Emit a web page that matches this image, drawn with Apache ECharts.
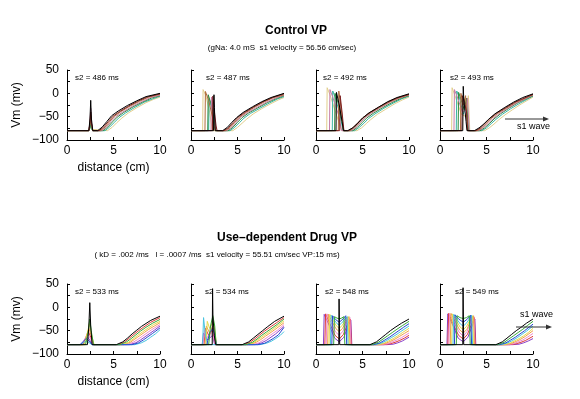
<!DOCTYPE html>
<html>
<head>
<meta charset="utf-8">
<script src="https://cdn.jsdelivr.net/npm/echarts@6/dist/echarts.min.js"></script>
<style>
html, body { margin: 0; background: #fff; }
#chart { width: 580px; height: 399px; }
</style>
</head>
<body>
<div id="chart"></div>
<script>
// labels
var panelLabels = ["s2 = 486 ms", "s2 = 487 ms", "s2 = 492 ms", "s2 = 493 ms",
                   "s2 = 533 ms", "s2 = 534 ms", "s2 = 548 ms", "s2 = 549 ms"];
var xTickLabels = [0, 5, 10];
var yTickLabels = [-100, -50, 0, 50];

// trace colours, in drawing order (black last, on top)
var controlColors = ["#e2cf8c", "#3ab4a4", "#2c8a3c", "#c67ca8", "#b06a3a", "#7d2020", "#000000"];
var drugColors = ["#8a40c8", "#e03a3a", "#f08ad0", "#f0a048", "#e4da4c", "#48c4e0", "#2848d0", "#38a838", "#000000"];

// Control VP, s2 = 486 ms  (distance cm, Vm mV)
var p486 = [
  [[0,-80],[2.35,-80],[2.48,-77],[2.55,-72],[2.62,-77],[2.75,-80],[4.35,-80],[4.85,-73],[5.35,-63],[5.9,-53],[6.6,-42],[7.5,-31],[8.5,-20],[9.3,-13],[10,-8]],
  [[0,-80],[2.35,-80],[2.48,-74],[2.55,-67],[2.62,-74],[2.75,-80],[4.1,-80],[4.6,-72],[5.1,-62],[5.6,-52],[6.3,-42],[7.3,-30],[8.3,-19],[9.2,-12],[10,-6]],
  [[0,-80],[2.35,-80],[2.48,-72],[2.55,-60],[2.62,-72],[2.75,-80],[3.9,-80],[4.4,-72],[4.9,-61],[5.4,-51],[6.1,-41],[7.1,-29],[8.1,-19],[9.1,-10],[10,-5]],
  [[0,-80],[2.35,-80],[2.47,-62],[2.55,-32],[2.63,-62],[2.77,-80],[3.75,-80],[4.25,-72],[4.75,-60],[5.25,-50],[6,-40],[7,-28],[8,-18],[9,-9],[10,-4]],
  [[0,-80],[2.35,-80],[2.47,-66],[2.55,-48],[2.63,-66],[2.77,-80],[3.6,-80],[4.1,-72],[4.6,-60],[5.1,-49],[5.8,-39],[6.8,-27],[7.8,-17],[8.8,-8],[10,-2]],
  [[0,-80],[2.35,-80],[2.47,-64],[2.55,-40],[2.63,-64],[2.77,-80],[3.45,-80],[3.95,-72],[4.45,-60],[4.95,-49],[5.65,-39],[6.65,-27],[7.6,-17],[8.6,-8],[10,-1]],
  [[0,-80],[2.35,-80],[2.47,-55],[2.55,-15],[2.63,-55],[2.77,-80],[3.3,-80],[3.8,-72],[4.3,-60],[4.8,-48],[5.5,-38],[6.5,-26],[7.5,-16],[8.5,-7],[10,0]]
];

// Control VP, s2 = 487 ms
var p487 = [
  [[0,-80],[1.25,-80],[1.3,8],[1.6,-5],[2.0,-40],[2.3,-80],[4.5,-80],[5,-73],[5.5,-64],[6,-55],[6.7,-44],[7.6,-33],[8.6,-22],[9.4,-14],[10,-9]],
  [[0,-80],[1.9,-80],[1.95,-12],[2.2,-30],[2.5,-60],[2.65,-80],[4.2,-80],[4.7,-73],[5.2,-63],[5.7,-53],[6.4,-43],[7.4,-32],[8.4,-21],[9.3,-12],[10,-7]],
  [[0,-80],[1.8,-80],[1.85,-3],[2.2,-25],[2.5,-55],[2.65,-80],[4.0,-80],[4.5,-73],[5,-62],[5.5,-52],[6.2,-42],[7.2,-31],[8.2,-20],[9.2,-11],[10,-5]],
  [[0,-80],[2.15,-80],[2.2,-8],[2.45,-40],[2.6,-65],[2.72,-80],[3.85,-80],[4.35,-73],[4.85,-62],[5.35,-51],[6.1,-41],[7.1,-30],[8.1,-19],[9.1,-10],[10,-4]],
  [[0,-80],[1.5,-80],[1.55,4],[1.9,-15],[2.3,-50],[2.6,-80],[3.7,-80],[4.2,-73],[4.7,-62],[5.2,-51],[5.9,-41],[6.9,-29],[7.9,-18],[8.9,-9],[10,-3]],
  [[0,-80],[2.3,-80],[2.35,-6],[2.55,-45],[2.7,-70],[2.8,-80],[3.55,-80],[4.05,-73],[4.55,-62],[5.05,-51],[5.75,-41],[6.75,-29],[7.75,-18],[8.75,-9],[10,-1]],
  [[0,-80],[2.42,-80],[2.47,-3],[2.52,-30],[2.6,-80],[3.4,-80],[3.9,-73],[4.4,-62],[4.9,-52],[5.6,-41],[6.6,-29],[7.6,-18],[8.6,-9],[10,0]]
];

// Control VP, s2 = 492 ms
var p492 = [
  [[0,-80],[1.15,-80],[1.2,12],[1.5,-3],[2.1,-40],[2.6,-70],[2.8,-80],[4.4,-80],[4.9,-74],[5.4,-65],[5.9,-56],[6.6,-45],[7.5,-34],[8.5,-22],[9.3,-14],[10,-8]],
  [[0,-80],[1.75,-80],[1.8,5],[2.1,-10],[2.6,-48],[2.9,-80],[4.15,-80],[4.65,-73],[5.15,-64],[5.65,-54],[6.35,-44],[7.3,-32],[8.3,-21],[9.2,-12],[10,-6]],
  [[0,-80],[2.0,-80],[2.05,0],[2.4,-22],[2.8,-60],[3.0,-80],[3.95,-80],[4.45,-73],[4.95,-63],[5.45,-53],[6.15,-43],[7.15,-31],[8.15,-20],[9.1,-11],[10,-5]],
  [[0,-80],[1.45,-80],[1.5,8],[1.8,-8],[2.4,-45],[2.75,-80],[3.8,-80],[4.3,-73],[4.8,-62],[5.3,-52],[6,-42],[7,-30],[8,-19],[9,-10],[10,-4]],
  [[0,-80],[2.4,-80],[2.45,5],[2.7,-30],[2.95,-80],[3.65,-80],[4.15,-73],[4.65,-62],[5.15,-52],[5.85,-42],[6.85,-30],[7.85,-19],[8.85,-10],[10,-3]],
  [[0,-80],[2.55,-80],[2.6,-5],[2.8,-40],[3.0,-80],[3.5,-80],[4,-73],[4.5,-63],[5,-53],[5.7,-42],[6.7,-30],[7.7,-19],[8.7,-10],[10,-2]],
  [[0,-80],[2.15,-80],[2.2,2],[2.5,-25],[2.8,-60],[2.95,-80],[3.4,-80],[3.95,-74],[4.5,-64],[5,-53],[5.7,-42],[6.7,-30],[7.7,-18],[8.7,-9],[10,-1]]
];

// Control VP, s2 = 493 ms
var p493 = [
  [[0,-80],[1.25,-80],[1.3,12],[1.7,-10],[2.3,-45],[2.8,-50],[3.05,-5],[3.2,-80],[4.8,-80],[5.3,-74],[5.8,-66],[6.3,-57],[7,-46],[7.8,-35],[8.8,-22],[10,-8]],
  [[0,-80],[1.75,-80],[1.8,5],[2.1,-10],[2.5,-45],[2.8,-25],[3.1,-80],[4.5,-80],[5,-74],[5.5,-65],[6,-56],[6.7,-45],[7.6,-33],[8.6,-21],[10,-6]],
  [[0,-80],[1.95,-80],[2.0,2],[2.3,-15],[2.6,-35],[2.85,-10],[3.05,-80],[4.3,-80],[4.8,-74],[5.3,-65],[5.8,-55],[6.5,-44],[7.4,-32],[8.4,-20],[10,-5]],
  [[0,-80],[1.5,-80],[1.55,8],[1.9,-10],[2.4,-40],[2.8,-35],[2.95,-10],[3.15,-80],[4.15,-80],[4.65,-74],[5.15,-65],[5.65,-55],[6.35,-44],[7.3,-32],[8.3,-20],[10,-4]],
  [[0,-80],[2.2,-80],[2.25,0],[2.5,-25],[2.75,-5],[3.0,-80],[4.0,-80],[4.5,-74],[5,-64],[5.5,-54],[6.2,-43],[7.2,-31],[8.2,-19],[10,-3]],
  [[0,-80],[2.35,-80],[2.4,-5],[2.65,-20],[2.85,-40],[2.95,-80],[3.85,-80],[4.35,-74],[4.85,-64],[5.35,-54],[6.05,-43],[7.05,-31],[8.05,-19],[10,-2]],
  [[0,-80],[2.45,-80],[2.5,15],[2.55,-10],[2.8,-60],[2.9,-80],[3.7,-80],[4.2,-74],[4.7,-66],[5.2,-56],[5.9,-44],[6.9,-31],[7.9,-19],[8.9,-9],[10,-1]]
];

// Use-dependent Drug VP, s2 = 533 ms
var p533 = [
  [[0,-80],[1.5,-80],[1.85,-72],[2.2,-63],[2.5,-72],[2.8,-80],[6.7,-80],[7.4,-76],[7.9,-70],[8.4,-63],[8.9,-56],[9.4,-49],[10,-40]],
  [[0,-80],[1.7,-80],[2.0,-66],[2.3,-52],[2.6,-66],[2.85,-80],[5.5,-80],[6.2,-74],[6.7,-66],[7.2,-58],[7.7,-50],[8.2,-43],[9,-32],[10,-22]],
  [[0,-80],[1.6,-80],[1.9,-68],[2.25,-58],[2.55,-68],[2.8,-80],[6.4,-80],[7.1,-75],[7.6,-69],[8.1,-62],[8.6,-55],[9.1,-48],[10,-37]],
  [[0,-80],[1.8,-80],[2.1,-60],[2.35,-45],[2.6,-60],[2.9,-80],[6.1,-80],[6.8,-75],[7.3,-68],[7.8,-61],[8.3,-54],[8.8,-47],[9.4,-40],[10,-33]],
  [[0,-80],[1.9,-80],[2.2,-55],[2.4,-35],[2.6,-55],[2.9,-80],[5.9,-80],[6.6,-75],[7.1,-68],[7.6,-60],[8.1,-53],[8.6,-46],[9.3,-37],[10,-30]],
  [[0,-80],[1.4,-80],[1.75,-76],[2.1,-72],[2.4,-76],[2.7,-80],[7.3,-80],[8,-76],[8.5,-71],[9,-64],[9.5,-57],[10,-48]],
  [[0,-80],[1.4,-80],[1.7,-74],[2.1,-66],[2.45,-74],[2.7,-80],[7.0,-80],[7.7,-76],[8.2,-70],[8.7,-63],[9.2,-56],[10,-44]],
  [[0,-80],[2.0,-80],[2.3,-50],[2.45,-25],[2.6,-50],[2.85,-80],[5.7,-80],[6.4,-74],[6.9,-67],[7.4,-59],[7.9,-51],[8.4,-44],[9.2,-34],[10,-26]],
  [[0,-80],[2.2,-80],[2.35,-40],[2.45,10],[2.55,-40],[2.7,-80],[5.3,-80],[6,-74],[6.5,-66],[7,-57],[7.5,-49],[8,-41],[9,-28],[10,-19]]
];

// Use-dependent Drug VP, s2 = 534 ms
var p534 = [
  [[0,-80],[1.2,-80],[1.35,-55],[1.8,-70],[2.3,-60],[2.55,-80],[6.9,-80],[7.6,-76],[8.1,-71],[8.6,-64],[9.1,-57],[10,-41]],
  [[0,-80],[1.4,-80],[1.55,-45],[1.9,-60],[2.3,-50],[2.65,-80],[5.7,-80],[6.4,-74],[6.9,-67],[7.4,-59],[7.9,-51],[8.4,-44],[9.2,-33],[10,-22]],
  [[0,-80],[1.3,-80],[1.45,-50],[1.8,-65],[2.3,-55],[2.6,-80],[6.6,-80],[7.3,-76],[7.8,-70],[8.3,-63],[8.8,-56],[9.3,-49],[10,-37]],
  [[0,-80],[1.5,-80],[1.65,-40],[2.0,-55],[2.35,-40],[2.7,-80],[6.3,-80],[7,-75],[7.5,-69],[8,-62],[8.5,-55],[9,-48],[10,-33]],
  [[0,-80],[1.6,-80],[1.75,-30],[2.0,-45],[2.4,-30],[2.6,-55],[2.75,-80],[6.1,-80],[6.8,-75],[7.3,-68],[7.8,-61],[8.3,-54],[8.8,-47],[9.4,-38],[10,-29]],
  [[0,-80],[1.25,-80],[1.35,-22],[1.55,-60],[1.8,-80],[7.4,-80],[8.1,-77],[8.6,-73],[9.1,-67],[9.6,-60],[10,-52]],
  [[0,-80],[1.7,-80],[2.0,-55],[2.35,-45],[2.6,-65],[2.75,-80],[7.2,-80],[7.9,-77],[8.4,-72],[8.9,-66],[9.4,-59],[10,-43]],
  [[0,-80],[1.9,-80],[2.1,-40],[2.35,-18],[2.55,-40],[2.7,-80],[5.9,-80],[6.6,-75],[7.1,-68],[7.6,-60],[8.1,-53],[8.6,-46],[9.3,-36],[10,-25]],
  [[0,-80],[2.28,-80],[2.32,40],[2.36,-20],[2.5,-60],[2.65,-80],[5.5,-80],[6.2,-74],[6.7,-66],[7.2,-58],[7.7,-50],[8.2,-42],[9,-30],[10,-19]]
];

// Use-dependent Drug VP, s2 = 548 ms
var p548 = [
  [[0,-80],[0.8,-80],[0.88,-15],[1.5,-42],[2.0,-66],[2.5,-74],[3.0,-64],[3.45,-40],[3.75,-28],[3.85,-80],[7.6,-80],[8.3,-79],[8.8,-76],[9.3,-72],[10,-64]],
  [[0,-80],[0.95,-80],[1.03,-14],[1.6,-40],[2.05,-60],[2.5,-68],[2.95,-58],[3.4,-36],[3.7,-25],[3.8,-80],[7.3,-80],[8,-78],[8.5,-75],[9,-71],[9.5,-66],[10,-60]],
  [[0,-80],[1.1,-80],[1.18,-14],[1.7,-36],[2.1,-53],[2.5,-60],[2.9,-51],[3.3,-32],[3.65,-22],[3.75,-80],[7.0,-80],[7.7,-78],[8.2,-74],[8.7,-70],[9.2,-65],[10,-55]],
  [[0,-80],[1.25,-80],[1.33,-15],[1.8,-33],[2.15,-46],[2.5,-52],[2.85,-45],[3.25,-30],[3.55,-20],[3.65,-80],[6.8,-80],[7.5,-77],[8,-73],[8.5,-68],[9,-62],[9.5,-56],[10,-50]],
  [[0,-80],[1.4,-80],[1.48,-15],[1.9,-30],[2.2,-40],[2.5,-45],[2.8,-39],[3.2,-27],[3.45,-20],[3.55,-80],[6.6,-80],[7.3,-77],[7.8,-72],[8.3,-67],[8.8,-61],[9.3,-54],[10,-45]],
  [[0,-80],[1.55,-80],[1.63,-17],[2.0,-28],[2.25,-35],[2.5,-38],[2.75,-34],[3.1,-25],[3.35,-20],[3.45,-80],[6.4,-80],[7.1,-76],[7.6,-71],[8.1,-65],[8.6,-59],[9.1,-52],[10,-40]],
  [[0,-80],[1.7,-80],[1.78,-18],[2.1,-26],[2.5,-32],[2.9,-25],[3.2,-18],[3.3,-80],[6.2,-80],[6.9,-76],[7.4,-70],[7.9,-64],[8.4,-57],[8.9,-50],[9.4,-43],[10,-35]],
  [[0,-80],[1.9,-80],[1.98,-20],[2.25,-23],[2.5,-25],[2.75,-23],[3.0,-20],[3.1,-80],[6.0,-80],[6.7,-75],[7.2,-68],[7.7,-61],[8.2,-54],[8.7,-47],[9.3,-39],[10,-30]],
  [[0,-80],[2.45,-80],[2.48,18],[2.52,18],[2.55,-80],[5.8,-80],[6.5,-74],[7,-66],[7.5,-58],[8,-50],[8.5,-43],[9.2,-34],[10,-25]]
];

// Use-dependent Drug VP, s2 = 549 ms
var p549 = [
  [[0,-80],[0.75,-80],[0.83,-14],[1.45,-42],[1.95,-66],[2.5,-74],[3.0,-64],[3.45,-40],[3.75,-25],[3.85,-80],[7.8,-80],[8.5,-79],[9,-76],[9.5,-72],[10,-67]],
  [[0,-80],[0.85,-80],[0.93,-13],[1.5,-40],[2.0,-60],[2.5,-68],[2.95,-58],[3.4,-36],[3.7,-22],[3.8,-80],[7.5,-80],[8.2,-78],[8.7,-75],[9.2,-71],[10,-62]],
  [[0,-80],[0.95,-80],[1.03,-13],[1.6,-36],[2.05,-53],[2.5,-62],[2.9,-52],[3.3,-32],[3.65,-20],[3.75,-80],[7.2,-80],[7.9,-78],[8.4,-74],[8.9,-70],[9.4,-64],[10,-56]],
  [[0,-80],[1.1,-80],[1.18,-13],[1.7,-33],[2.1,-48],[2.5,-55],[2.9,-47],[3.25,-30],[3.6,-18],[3.7,-80],[7.0,-80],[7.7,-77],[8.2,-73],[8.7,-68],[9.2,-62],[10,-50]],
  [[0,-80],[1.25,-80],[1.33,-14],[1.8,-30],[2.15,-42],[2.5,-48],[2.85,-41],[3.2,-28],[3.5,-18],[3.6,-80],[6.8,-80],[7.5,-77],[8,-72],[8.5,-67],[9,-61],[9.5,-54],[10,-45]],
  [[0,-80],[1.4,-80],[1.48,-15],[1.9,-28],[2.2,-36],[2.5,-40],[2.8,-35],[3.15,-25],[3.4,-17],[3.5,-80],[6.6,-80],[7.3,-76],[7.8,-71],[8.3,-65],[8.8,-58],[9.3,-51],[10,-40]],
  [[0,-80],[1.55,-80],[1.63,-16],[2.0,-25],[2.5,-32],[2.95,-25],[3.3,-17],[3.4,-80],[6.4,-80],[7.1,-76],[7.6,-70],[8.1,-64],[8.6,-57],[9.1,-50],[10,-36]],
  [[0,-80],[1.75,-80],[1.83,-18],[2.15,-22],[2.5,-24],[2.85,-22],[3.15,-18],[3.25,-80],[6.2,-80],[6.9,-75],[7.4,-68],[7.9,-61],[8.4,-54],[8.9,-47],[9.4,-39],[10,-30]],
  [[0,-80],[2.45,-80],[2.48,42],[2.52,42],[2.55,-80],[6.0,-80],[6.7,-74],[7.2,-66],[7.7,-58],[8.2,-50],[8.7,-43],[9.3,-34],[10,-25]]
];

var panels = [p486, p487, p492, p493, p533, p534, p548, p549];

// layout
var FONT = "'Liberation Sans', Arial, Helvetica, sans-serif";
var colLefts = [67, 191, 316, 440];
var rowTops = [70, 284];
var gw = 93, gh = 70;
var labelShift = [8, 15, 7, 10, 8, 14, 9, 15];

function minus(v) { return String(v).replace("-", "\u2212"); }

var grids = [], xAxes = [], yAxes = [], series = [], graphics = [];

panels.forEach(function(traces, i) {
    var col = i % 4, row = Math.floor(i / 4);
    var first = col === 0;
    grids.push({ left: colLefts[col], top: rowTops[row], width: gw, height: gh });
    xAxes.push({
        type: "value", gridIndex: i, min: 0, max: 10, interval: 2.5,
        axisLine: { onZero: false, lineStyle: { color: "#000", width: 1 } },
        axisTick: { inside: true, length: 3, lineStyle: { color: "#000" } },
        splitLine: { show: false },
        axisLabel: {
            color: "#000", fontSize: 12, fontFamily: FONT, margin: 5,
            formatter: function(v) { return xTickLabels.indexOf(v) >= 0 ? String(v) : ""; }
        },
        name: first ? "distance (cm)" : "", nameLocation: "middle", nameGap: 22,
        nameTextStyle: { color: "#000", fontSize: 12, fontFamily: FONT }
    });
    yAxes.push({
        type: "value", gridIndex: i, min: -100, max: 50, interval: 25,
        axisLine: { show: true, onZero: false, lineStyle: { color: "#000", width: 1 } },
        axisTick: { show: true, inside: true, length: 3, lineStyle: { color: "#000" } },
        splitLine: { show: false },
        axisLabel: {
            show: first, color: "#000", fontSize: 12, fontFamily: FONT, margin: 8,
            formatter: function(v) { return yTickLabels.indexOf(v) >= 0 ? minus(v) : ""; }
        },
        name: first ? "Vm (mv)" : "", nameLocation: "middle", nameGap: 44, nameRotate: 90,
        nameTextStyle: { color: "#000", fontSize: 12, fontFamily: FONT }
    });
    var colors = row === 0 ? controlColors : drugColors;
    traces.forEach(function(tr, j) {
        series.push({
            type: "line", xAxisIndex: i, yAxisIndex: i, data: tr,
            symbol: "none", color: colors[j],
            lineStyle: { width: 1, color: colors[j] },
            animation: false, z: 2 + j
        });
    });
    graphics.push({
        type: "text", left: colLefts[col] + labelShift[i], top: rowTops[row] + 4,
        style: { text: panelLabels[i], fontSize: 8, fontFamily: FONT, fill: "#000" }, z: 100
    });
});

function arrow(x1, x2, y) {
    return [
        { type: "line", shape: { x1: x1, y1: y, x2: x2 - 4, y2: y }, style: { stroke: "#333", lineWidth: 1 }, z: 100 },
        { type: "polygon", shape: { points: [[x2, y], [x2 - 6, y - 2.5], [x2 - 6, y + 2.5]] }, style: { fill: "#333" }, z: 100 }
    ];
}
graphics = graphics.concat(arrow(505, 549, 119), arrow(516, 552, 327));
graphics.push(
    { type: "text", left: 517, top: 122, style: { text: "s1 wave", fontSize: 9, fontFamily: FONT, fill: "#000" }, z: 100 },
    { type: "text", left: 520, top: 310, style: { text: "s1 wave", fontSize: 9, fontFamily: FONT, fill: "#000" }, z: 100 }
);

var chart = echarts.init(document.getElementById("chart"), null, { renderer: "canvas" });
chart.setOption({
    backgroundColor: "#fff",
    animation: false,
    title: [
        { text: "Control VP", left: 291, top: 20, textAlign: "center",
          textStyle: { fontSize: 12, fontWeight: "bold", fontFamily: FONT, color: "#000" } },
        { text: "(gNa: 4.0 mS  s1 velocity = 56.56 cm/sec)", left: 277, top: 39, textAlign: "center",
          textStyle: { fontSize: 8, fontWeight: "normal", fontFamily: FONT, color: "#000" } },
        { text: "Use\u2013dependent Drug VP", left: 282, top: 227, textAlign: "center",
          textStyle: { fontSize: 12, fontWeight: "bold", fontFamily: FONT, color: "#000" } },
        { text: "( kD = .002 /ms   l = .0007 /ms  s1 velocity = 55.51 cm/sec VP:15 ms)", left: 212, top: 246, textAlign: "center",
          textStyle: { fontSize: 8, fontWeight: "normal", fontFamily: FONT, color: "#000" } }
    ],
    grid: grids,
    xAxis: xAxes,
    yAxis: yAxes,
    series: series,
    graphic: graphics
});
</script>
</body>
</html>
